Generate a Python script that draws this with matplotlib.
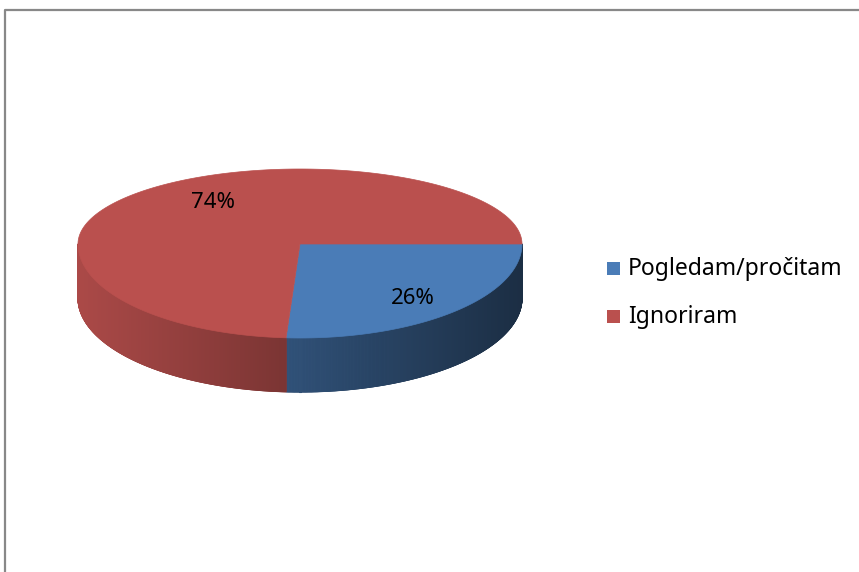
import numpy as np
import matplotlib
matplotlib.use('Agg')
import matplotlib.pyplot as plt
from matplotlib.patches import Polygon
from matplotlib.collections import PolyCollection

plt.rcParams['font.family'] = ['Noto Sans', 'DejaVu Sans']

# 数据
labels = ['Pogledam/pročitam', 'Ignoriram']
values = [26, 74]
top_colors = ['#4A7CB7', '#BA504E']
label_text = ['26%', '74%']

# 几何参数（像素坐标）
W, H = 859, 572
cx, cy = 300, 244
a = 222
b_back, b_front = 75, 94
depth = 54


def proj(theta):
    theta = np.asarray(theta)
    s = np.sin(theta)
    b = np.where(s < 0, b_front, b_back)
    return cx + a * np.cos(theta), cy - b * s


def shade(hexcol, f):
    rgb = np.array(matplotlib.colors.to_rgb(hexcol))
    return tuple(np.clip(rgb * f, 0, 1))


fig = plt.figure(figsize=(W / 100, H / 100), dpi=100)
ax = fig.add_axes([0, 0, 1, 1])
ax.set_xlim(0, W)
ax.set_ylim(H, 0)
ax.axis('off')

# 边框
ax.plot([5, 5, W + 5], [H + 5, 9.5, 9.5], color='#888888', lw=1.6)

total = sum(values)
starts = []
ang = 0.0
for v in values:
    starts.append((ang, ang - 2 * np.pi * v / total))
    ang -= 2 * np.pi * v / total

# 侧面（前半部分）
for (t0, t1), col in zip(starts, top_colors):
    lo, hi = max(min(t0, t1), -np.pi), min(max(t0, t1), 0)
    if hi <= lo:
        continue
    ts = np.linspace(lo, hi, 300)
    xs, ys = proj(ts)
    fx = 0.92 - 0.55 * (xs - (cx - a)) / (2 * a)
    # 底层整体轮廓（抗锯齿边缘）
    outline = list(zip(xs, ys)) + list(zip(xs[::-1], ys[::-1] + depth))
    ax.add_patch(Polygon(outline, closed=True, facecolor=shade(col, fx.mean()),
                         edgecolor=shade(col, fx.mean()), lw=0.6))
    quads, cols = [], []
    for i in range(len(ts) - 1):
        q = [(xs[i], ys[i]), (xs[i + 1], ys[i + 1]),
             (xs[i + 1], ys[i + 1] + depth), (xs[i], ys[i] + depth)]
        quads.append(q)
        cols.append(shade(col, 0.5 * (fx[i] + fx[i + 1])))
    pc = PolyCollection(quads, facecolors=cols, edgecolors=cols, linewidths=0.8)
    ax.add_collection(pc)

# 顶面
for (t0, t1), col in zip(starts, top_colors):
    ts = np.linspace(t0, t1, 400)
    xs, ys = proj(ts)
    pts = [(cx, cy)] + list(zip(xs, ys))
    ax.add_patch(Polygon(pts, closed=True, facecolor=col, edgecolor=col, lw=0.5))

# 数据标签
label_pos = [(413, 298), (213, 203)]
for (x, y), t in zip(label_pos, label_text):
    ax.text(x, y, t, fontsize=16, ha='center', va='center', color='black')

# 图例
leg_y = [269, 317]
for yy, lab, col in zip(leg_y, labels, top_colors):
    ax.add_patch(Polygon([(607, yy - 7), (620, yy - 7), (620, yy + 6), (607, yy + 6)],
                         closed=True, facecolor=col, edgecolor='none'))
    ax.text(628, yy, lab, fontsize=16.5, ha='left', va='center', color='black')

fig.savefig('out.png', dpi=100)
